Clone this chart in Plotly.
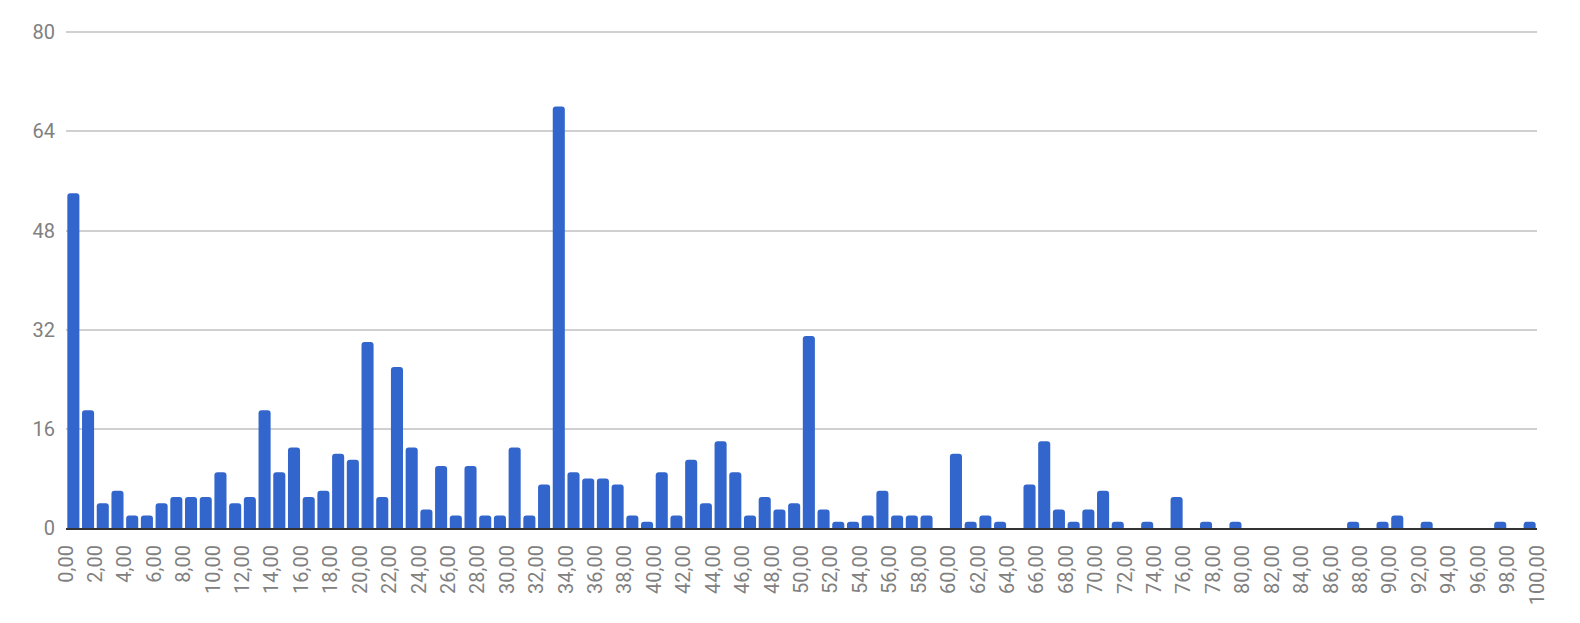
import plotly.graph_objects as go

# Histogram bins (lower edge of each 1-unit bin) and their counts
bin_start = list(range(0, 100))
counts = [
    54, 19, 4, 6, 2, 2, 4, 5, 5, 5,
    9, 4, 5, 19, 9, 13, 5, 6, 12, 11,
    30, 5, 26, 13, 3, 10, 2, 10, 2, 2,
    13, 2, 7, 68, 9, 8, 8, 7, 2, 1,
    9, 2, 11, 4, 14, 9, 2, 5, 3, 4,
    31, 3, 1, 1, 2, 6, 2, 2, 2, 0,
    12, 1, 2, 1, 0, 7, 14, 3, 1, 3,
    6, 1, 0, 1, 0, 5, 0, 1, 0, 1,
    0, 0, 0, 0, 0, 0, 0, 1, 0, 1,
    2, 0, 1, 0, 0, 0, 0, 1, 0, 1,
]

x_tick_values = list(range(0, 101, 2))
x_tick_labels = [f"{v},00" for v in x_tick_values]
y_tick_values = [0, 16, 32, 48, 64, 80]
y_tick_labels = [str(v) for v in y_tick_values]

bar_centers = [b + 0.5 for b in bin_start]

fig = go.Figure(
    go.Bar(
        x=bar_centers,
        y=counts,
        marker=dict(color="#3366cc", line=dict(width=0), cornerradius=3),
        hoverinfo="x+y",
    )
)

font_family = "Roboto, Arial, sans-serif"
label_color = "#808080"

fig.update_layout(
    width=1564,
    height=607,
    margin=dict(l=58, r=35, t=23, b=87, autoexpand=False),
    paper_bgcolor="white",
    plot_bgcolor="white",
    bargap=0.18,
    showlegend=False,
    font=dict(family=font_family, size=20, color=label_color),
    xaxis=dict(
        range=[0, 100],
        tickmode="array",
        tickvals=x_tick_values,
        ticktext=x_tick_labels,
        tickangle=-90,
        showgrid=False,
        zeroline=False,
        showline=True,
        linecolor="#333333",
        linewidth=2,
        ticks="",
        ticklabelstandoff=7,
        automargin=False,
        tickfont=dict(size=20, color=label_color, family=font_family),
        fixedrange=True,
    ),
    yaxis=dict(
        range=[0, 80.2],
        tickmode="array",
        tickvals=y_tick_values,
        ticktext=y_tick_labels,
        showgrid=True,
        gridcolor="#d0d0d0",
        gridwidth=1.5,
        zeroline=False,
        showline=False,
        ticks="",
        ticklabelstandoff=10,
        automargin=False,
        tickfont=dict(size=20, color=label_color, family=font_family),
        fixedrange=True,
    ),
)

fig.write_html("out.html")
